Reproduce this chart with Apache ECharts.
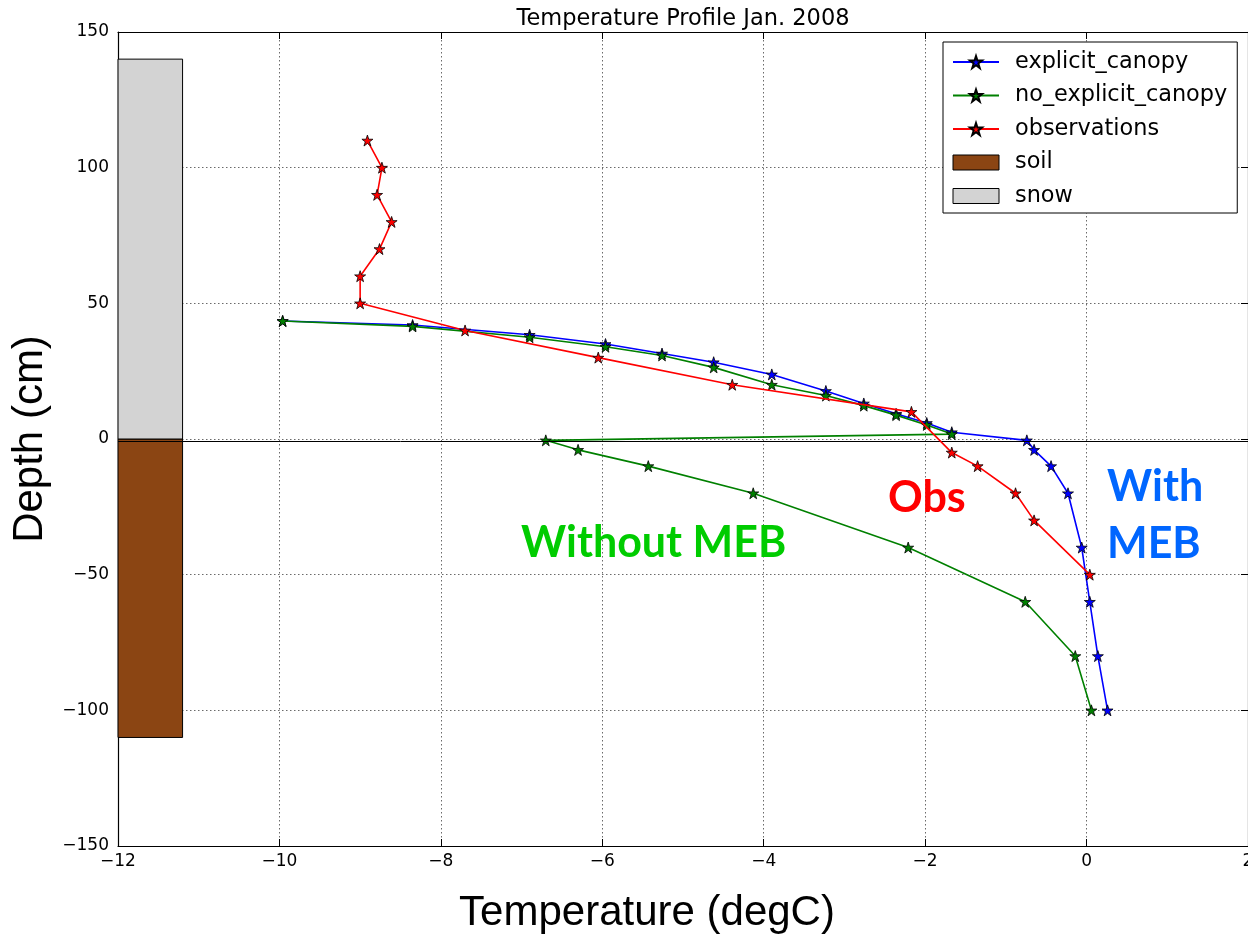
<!DOCTYPE html>
<html>
<head>
<meta charset="utf-8">
<script src="https://cdn.jsdelivr.net/npm/echarts@6/dist/echarts.min.js"></script>
<style>
 html, body { margin:0; padding:0; background:#fff; }
 #main { width:1248px; height:937px; }
</style>
</head>
<body>
<div id="main"></div>
<script>
 // temperature (degC) / depth (cm)
 var explicitTemp  = [-9.96, -8.35, -6.90, -5.96, -5.26, -4.62, -3.90, -3.23, -2.76, -2.36, -1.98, -1.67, -0.74, -0.65, -0.44, -0.23, -0.06, 0.04, 0.14, 0.26];
 var explicitDepth = [43.5, 42.0, 38.4, 35.0, 31.5, 28.3, 23.8, 17.7, 13.1, 9.3, 5.9, 2.5, -0.5, -4, -10, -20, -40, -60, -80, -100];

 var noExplicitTemp  = [-9.96, -8.35, -6.90, -5.96, -5.26, -4.62, -3.90, -3.23, -2.76, -2.36, -1.98, -1.67, -6.70, -6.30, -5.43, -4.13, -2.21, -0.76, -0.14, 0.06];
 var noExplicitDepth = [43.5, 41.5, 37.5, 34.0, 30.8, 26.4, 20.0, 16.0, 12.3, 8.8, 5.2, 1.8, -0.5, -4, -10, -20, -40, -60, -80, -100];

 var obsTemp  = [-8.91, -8.73, -8.79, -8.61, -8.76, -9.0, -9.0, -7.70, -6.05, -4.39, -2.17, -1.67, -1.35, -0.88, -0.65, 0.04];
 var obsDepth = [110, 100, 90, 80, 70, 60, 50, 40, 30, 20, 10, -5, -10, -20, -30, -50];

 // soil / snow columns: name, x start, x end, bottom, top
 var layerName   = ['soil', 'snow'];
 var layerX0     = [-12, -12];
 var layerX1     = [-11.2, -11.2];
 var layerBottom = [-110, 0];
 var layerTop    = [0, 140];

 var groundLine = -0.7;

 function pairs(xs, ys){
	 var out = [];
	 for(var i=0;i<xs.length;i++){
		 out.push([xs[i], ys[i]]);
	 }
	 return out;
 }
 function minus(v){
	 return String(v).replace('-', '\u2212');
 }

 var layerColor = {soil:'#8B4513', snow:'#D3D3D3'};
 var layerSeries = [];
 for(var k=0;k<layerName.length;k++){
	 layerSeries.push({
		 name: layerName[k],
		 type: 'custom',
		 z: 1,
		 itemStyle: {color: layerColor[layerName[k]], borderColor:'#000', borderWidth:1},
		 data: [[layerX0[k], layerX1[k], layerBottom[k], layerTop[k]]],
		 renderItem: function(params, api){
			 var a = api.coord([api.value(0), api.value(3)]);
			 var b = api.coord([api.value(1), api.value(2)]);
			 return {
				 type: 'rect',
				 shape: {x:a[0], y:a[1], width:b[0]-a[0], height:b[1]-a[1]},
				 style: api.style()
			 };
		 }
	 });
 }

 var starPath = 'path://M50,0 L61.8,35.5 L99,35.5 L69,57.5 L80.5,93 L50,71 L19.5,93 L31,57.5 L1,35.5 L38.2,35.5 Z';

 function lineSeries(name, color, xs, ys, z){
	 return {
		 name: name,
		 type: 'line',
		 z: z,
		 data: pairs(xs, ys),
		 symbol: starPath,
		 symbolSize: 11,
		 showAllSymbol: true,
		 lineStyle: {color: color, width: 1.6},
		 itemStyle: {color: color, borderColor:'#000', borderWidth:0.8},
		 emphasis: {disabled: true},
		 animation: false
	 };
 }

 var tickFont = {fontFamily:'DejaVu Sans', fontSize:17, color:'#000'};
 var gridLine = {show:true, lineStyle:{color:'#444', width:0.8, type:[1.5, 2.5]}};

 var myChart = echarts.init(document.getElementById('main'), null, {renderer:'canvas'});
 var option = {
	 animation: false,
	 backgroundColor: '#fff',
	 title: {
		 text: 'Temperature Profile Jan. 2008',
		 left: 678, top: 3, textAlign: 'center',
		 textStyle: {fontFamily:'DejaVu Sans', fontSize:22.5, fontWeight:'normal', color:'#000'}
	 },
	 grid: {left:118, top:32, right:0, bottom:91, containLabel:false, outerBoundsMode:'none'},
	 legend: {
		 orient: 'vertical',
		 left: 943, top: 42,
		 padding: [9, 10, 6, 9],
		 itemGap: 11.5,
		 itemWidth: 46, itemHeight: 15,
		 backgroundColor: '#fff',
		 borderColor: '#000', borderWidth: 1, borderRadius: 0,
		 textStyle: {fontFamily:'DejaVu Sans', fontSize:22.4, color:'#000', padding:[0,0,0,11]},
		 data: [
			 {name:'explicit_canopy'},
			 {name:'no_explicit_canopy'},
			 {name:'observations'},
			 {name:'soil', icon:'rect', itemStyle:{color:'#8B4513', borderColor:'#000', borderWidth:1}},
			 {name:'snow', icon:'rect', itemStyle:{color:'#D3D3D3', borderColor:'#000', borderWidth:1}}
		 ]
	 },
	 xAxis: [
		 {
			 type:'value', min:-12, max:2, interval:2, position:'bottom',
			 name:'Temperature (degC)', nameLocation:'middle', nameGap:46,
			 nameTextStyle:{fontFamily:'Liberation Sans', fontSize:42, color:'#000', padding:[0,72,0,0]},
			 axisLine:{show:true, onZero:false, lineStyle:{color:'#000', width:1.2}},
			 axisTick:{show:true, inside:true, length:7, lineStyle:{color:'#000'}},
			 axisLabel:Object.assign({margin:7, formatter:minus}, tickFont),
			 splitLine: gridLine
		 },
		 {
			 type:'value', min:-12, max:2, interval:2, position:'top',
			 axisLine:{show:true, onZero:false, lineStyle:{color:'#000', width:1.2}},
			 axisTick:{show:true, inside:true, length:7, lineStyle:{color:'#000'}},
			 axisLabel:{show:false}, splitLine:{show:false}
		 }
	 ],
	 yAxis: [
		 {
			 type:'value', min:-150, max:150, interval:50, position:'left',
			 name:'Depth (cm)', nameLocation:'middle', nameGap:67,
			 nameTextStyle:{fontFamily:'Liberation Sans', fontSize:42, color:'#000'},
			 axisLine:{show:true, onZero:false, lineStyle:{color:'#000', width:1.2}},
			 axisTick:{show:true, inside:true, length:7, lineStyle:{color:'#000'}},
			 axisLabel:Object.assign({margin:9, formatter:minus}, tickFont),
			 splitLine: gridLine
		 },
		 {
			 type:'value', min:-150, max:150, interval:50, position:'right',
			 axisLine:{show:true, onZero:false, lineStyle:{color:'#000', width:1.2}},
			 axisTick:{show:true, inside:true, length:7, lineStyle:{color:'#000'}},
			 axisLabel:{show:false}, splitLine:{show:false}
		 }
	 ],
	 series: layerSeries.concat([
		 Object.assign(lineSeries('explicit_canopy', '#0000ff', explicitTemp, explicitDepth, 3), {
			 markLine: {
				 silent:true, symbol:'none', animation:false,
				 label:{show:false},
				 lineStyle:{color:'#000', width:1, type:'solid'},
				 data:[{yAxis: groundLine}]
			 }
		 }),
		 lineSeries('no_explicit_canopy', '#008000', noExplicitTemp, noExplicitDepth, 4),
		 lineSeries('observations', '#ff0000', obsTemp, obsDepth, 5)
	 ]),
	 graphic: [
		 {type:'text', left:521, top:522, z:10,
			 style:{text:'Without MEB', font:'bold 43px Lato', fill:'#00cc00'}},
		 {type:'text', left:888, top:477, z:10,
			 style:{text:'Obs', font:'bold 43px Lato', fill:'#ff0000'}},
		 {type:'text', left:1107, top:459, z:10,
			 style:{text:'With\nMEB', font:'bold 43px Lato', fill:'#0066ff', lineHeight:57}}
	 ]
 };
 myChart.setOption(option);
 window.addEventListener("resize",function(){
	 myChart.resize();
 });
</script>
</body>
</html>
